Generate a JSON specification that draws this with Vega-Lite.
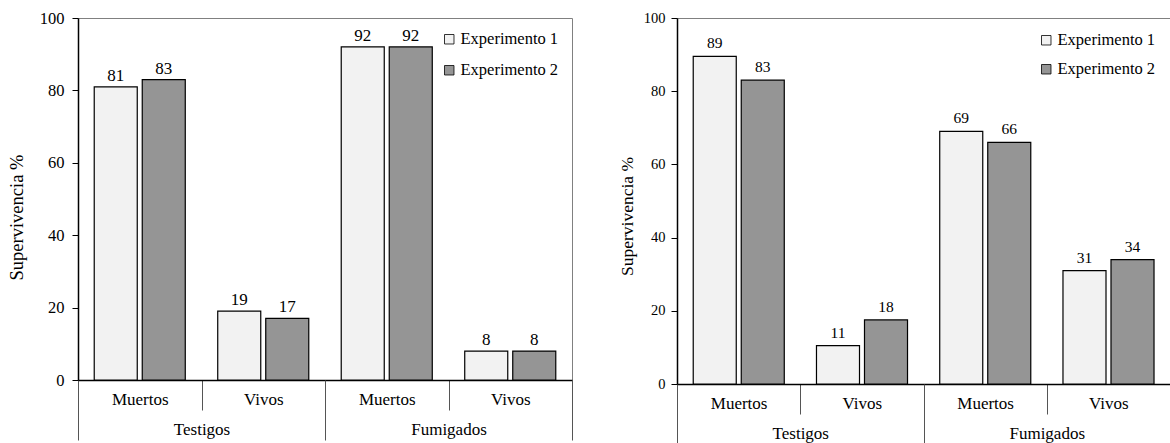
{
  "$schema": "https://vega.github.io/schema/vega-lite/v6.json",
  "background": "white",
  "padding": {"left": 6, "top": 9, "right": 0, "bottom": 0},
  "spacing": 44,
  "config": {
    "font": "Liberation Serif",
    "view": {"stroke": "#808080", "strokeWidth": 1},
    "axis": {"labelFont": "Liberation Serif", "titleFont": "Liberation Serif", "labelColor": "black", "titleColor": "black", "titleFontWeight": "normal", "grid": false},
    "legend": {"labelFont": "Liberation Serif", "labelColor": "black"},
    "text": {"font": "Liberation Serif"}
  },
  "resolve": {"scale": {"fill": "independent"}, "legend": {"fill": "independent"}},
  "hconcat": [
    {
      "width": 494,
      "height": 362,
      "data": {"values": [
        {"grupo": "Testigos", "sub": "Testigos|Muertos", "exp": "Experimento 1", "valor": 81, "etiqueta": "81"},
        {"grupo": "Testigos", "sub": "Testigos|Muertos", "exp": "Experimento 2", "valor": 83, "etiqueta": "83"},
        {"grupo": "Testigos", "sub": "Testigos|Vivos", "exp": "Experimento 1", "valor": 19, "etiqueta": "19"},
        {"grupo": "Testigos", "sub": "Testigos|Vivos", "exp": "Experimento 2", "valor": 17, "etiqueta": "17"},
        {"grupo": "Fumigados", "sub": "Fumigados|Muertos", "exp": "Experimento 1", "valor": 92, "etiqueta": "92"},
        {"grupo": "Fumigados", "sub": "Fumigados|Muertos", "exp": "Experimento 2", "valor": 92, "etiqueta": "92"},
        {"grupo": "Fumigados", "sub": "Fumigados|Vivos", "exp": "Experimento 1", "valor": 8, "etiqueta": "8"},
        {"grupo": "Fumigados", "sub": "Fumigados|Vivos", "exp": "Experimento 2", "valor": 8, "etiqueta": "8"}
      ]},
      "layer": [
        {
          "layer": [
            {
              "mark": {"type": "bar", "stroke": "black", "strokeWidth": 1.2},
              "encoding": {
                "x": {"field": "sub", "type": "nominal", "sort": ["Testigos|Muertos", "Testigos|Vivos", "Fumigados|Muertos", "Fumigados|Vivos"],
                  "scale": {"paddingInner": 0, "paddingOuter": 0},
                  "axis": {"title": null, "orient": "bottom", "labelExpr": "split(datum.label, '|')[1]", "labelAngle": 0, "tickBand": "extent", "tickSize": 30, "tickColor": "#555", "labelPadding": -19, "labelFontSize": 17, "domainColor": "black", "domainWidth": 1.5}},
                "xOffset": {"field": "exp", "type": "nominal", "scale": {"paddingInner": 0.104, "paddingOuter": 0.338}},
                "y": {"field": "valor", "type": "quantitative", "scale": {"domain": [0, 100]},
                  "axis": {"title": "Supervivencia %", "titleFontSize": 18.5, "titlePadding": 13, "titleY": 199, "values": [0, 20, 40, 60, 80, 100], "labelFontSize": 16.5, "labelPadding": 8, "tickSize": 6, "tickColor": "black", "domainColor": "black", "domainWidth": 1.5}},
                "fill": {"field": "exp", "type": "nominal", "scale": {"range": ["#f2f2f2", "#959595"]},
                  "legend": {"title": null, "orient": "top-right", "offset": 13, "symbolType": "square", "symbolSize": 90, "symbolStrokeColor": "black", "symbolStrokeWidth": 0.8, "labelFontSize": 16.5, "rowPadding": 14, "labelOffset": 3, "padding": 0}}
              }
            },
            {
              "mark": {"type": "text", "baseline": "alphabetic", "dy": -6, "fontSize": 17, "color": "black"},
              "encoding": {
                "x": {"field": "sub", "type": "nominal", "sort": ["Testigos|Muertos", "Testigos|Vivos", "Fumigados|Muertos", "Fumigados|Vivos"]},
                "xOffset": {"field": "exp", "type": "nominal"},
                "y": {"field": "valor", "type": "quantitative"},
                "text": {"field": "etiqueta"}
              }
            }
          ]
        },
        {
          "mark": {"type": "text", "opacity": 0},
          "encoding": {
            "x": {"field": "grupo", "type": "nominal", "sort": ["Testigos", "Fumigados"], "scale": {"paddingInner": 0, "paddingOuter": 0},
              "axis": {"title": null, "orient": "bottom", "labelAngle": 0, "tickBand": "extent", "tickSize": 60, "tickColor": "#555", "labelPadding": -19, "labelFontSize": 17, "domain": false}},
            "text": {"value": " "}
          }
        }
      ],
      "resolve": {"scale": {"x": "independent"}, "axis": {"x": "independent"}}
    },
    {
      "width": 493,
      "height": 366,
      "data": {"values": [
        {"grupo": "Testigos", "sub": "Testigos|Muertos", "exp": "Experimento 1", "valor": 89.5, "etiqueta": "89"},
        {"grupo": "Testigos", "sub": "Testigos|Muertos", "exp": "Experimento 2", "valor": 83, "etiqueta": "83"},
        {"grupo": "Testigos", "sub": "Testigos|Vivos", "exp": "Experimento 1", "valor": 10.5, "etiqueta": "11"},
        {"grupo": "Testigos", "sub": "Testigos|Vivos", "exp": "Experimento 2", "valor": 17.5, "etiqueta": "18"},
        {"grupo": "Fumigados", "sub": "Fumigados|Muertos", "exp": "Experimento 1", "valor": 69, "etiqueta": "69"},
        {"grupo": "Fumigados", "sub": "Fumigados|Muertos", "exp": "Experimento 2", "valor": 66, "etiqueta": "66"},
        {"grupo": "Fumigados", "sub": "Fumigados|Vivos", "exp": "Experimento 1", "valor": 31, "etiqueta": "31"},
        {"grupo": "Fumigados", "sub": "Fumigados|Vivos", "exp": "Experimento 2", "valor": 34, "etiqueta": "34"}
      ]},
      "layer": [
        {
          "layer": [
            {
              "mark": {"type": "bar", "stroke": "black", "strokeWidth": 1.2},
              "encoding": {
                "x": {"field": "sub", "type": "nominal", "sort": ["Testigos|Muertos", "Testigos|Vivos", "Fumigados|Muertos", "Fumigados|Vivos"],
                  "scale": {"paddingInner": 0, "paddingOuter": 0},
                  "axis": {"title": null, "orient": "bottom", "labelExpr": "split(datum.label, '|')[1]", "labelAngle": 0, "tickBand": "extent", "tickSize": 30, "tickColor": "#555", "labelPadding": -19, "labelFontSize": 17, "domainColor": "black", "domainWidth": 1.5}},
                "xOffset": {"field": "exp", "type": "nominal", "scale": {"paddingInner": 0.104, "paddingOuter": 0.338}},
                "y": {"field": "valor", "type": "quantitative", "scale": {"domain": [0, 100]},
                  "axis": {"title": "Supervivencia %", "titleFontSize": 17.5, "titlePadding": 7, "titleY": 198, "values": [0, 20, 40, 60, 80, 100], "labelFontSize": 14.5, "labelPadding": 6, "tickSize": 6, "tickColor": "black", "domainColor": "black", "domainWidth": 1.5}},
                "fill": {"field": "exp", "type": "nominal", "scale": {"range": ["#f2f2f2", "#959595"]},
                  "legend": {"title": null, "orient": "top-right", "offset": 14, "symbolType": "square", "symbolSize": 90, "symbolStrokeColor": "black", "symbolStrokeWidth": 0.8, "labelFontSize": 16.5, "rowPadding": 12, "labelOffset": 3, "padding": 0}}
              }
            },
            {
              "mark": {"type": "text", "baseline": "alphabetic", "dy": -8, "fontSize": 15.5, "color": "black"},
              "encoding": {
                "x": {"field": "sub", "type": "nominal", "sort": ["Testigos|Muertos", "Testigos|Vivos", "Fumigados|Muertos", "Fumigados|Vivos"]},
                "xOffset": {"field": "exp", "type": "nominal"},
                "y": {"field": "valor", "type": "quantitative"},
                "text": {"field": "etiqueta"}
              }
            }
          ]
        },
        {
          "mark": {"type": "text", "opacity": 0},
          "encoding": {
            "x": {"field": "grupo", "type": "nominal", "sort": ["Testigos", "Fumigados"], "scale": {"paddingInner": 0, "paddingOuter": 0},
              "axis": {"title": null, "orient": "bottom", "labelAngle": 0, "tickBand": "extent", "tickSize": 60, "tickColor": "#555", "labelPadding": -19, "labelFontSize": 17, "domain": false}},
            "text": {"value": " "}
          }
        }
      ],
      "resolve": {"scale": {"x": "independent"}, "axis": {"x": "independent"}}
    }
  ]
}
